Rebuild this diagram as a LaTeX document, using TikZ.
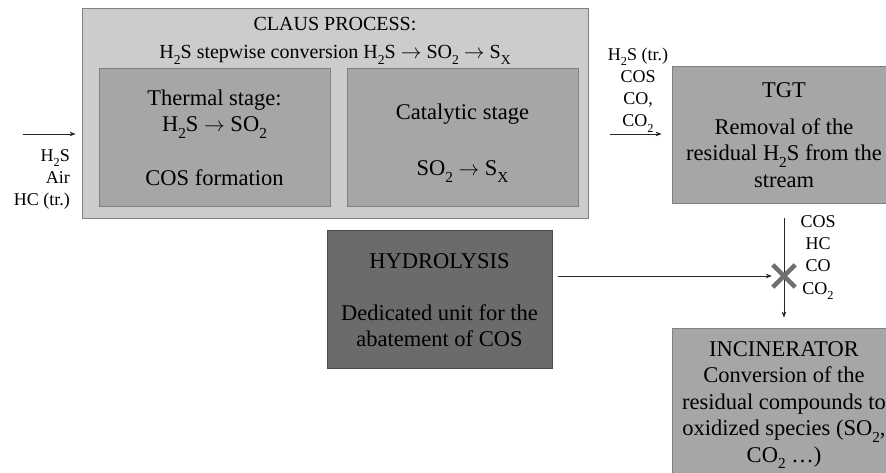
\documentclass[tikz,border=0pt]{standalone}
\usepackage{graphicx}
\usepackage{fontspec}
\setmainfont{Liberation Serif}
\usetikzlibrary{arrows.meta}
\newcommand{\sbs}[1]{\raisebox{-0.3em}{\scalebox{0.68}{#1}}}
\definecolor{outerfill}{HTML}{CCCCCC}
\definecolor{innerfill}{HTML}{A6A6A6}
\definecolor{hydfill}{HTML}{6B6B6B}
\definecolor{edgegray}{HTML}{808080}
\definecolor{crossgray}{HTML}{6E6E6E}
\tikzset{
  box/.style={draw=edgegray, line width=0.8pt, inner sep=0pt},
  boxtext/.style={inner sep=0pt, align=center, font=\fontsize{22.5}{26.8}\selectfont},
  lab/.style={inner sep=0pt, align=center, font=\fontsize{18}{22.3}\selectfont},
  flow/.style={draw=black!85, line width=0.7pt, -{Stealth[length=6pt,width=4.5pt]}},
  crossline/.style={draw=crossgray, line width=4.5pt},
}
\begin{document}
\begin{tikzpicture}[x=1pt,y=-1pt]
\useasboundingbox (0,0) rectangle (886,472);
\clip (0,0) rectangle (886,472);
% Claus process
\node[box, fill=outerfill, minimum width=506pt, minimum height=210pt] (claus) at (335,113) {};
\node[boxtext, font=\fontsize{20}{28}\selectfont] (claustitle) at (335,40.4)
  {CLAUS PROCESS:\\H\sbs{2}S stepwise conversion H\sbs{2}S $\rightarrow$ SO\sbs{2} $\rightarrow$ S\sbs{X}};
\node[box, fill=innerfill, minimum width=231pt, minimum height=138pt] (thermal) at (214.5,137) {};
\node[boxtext] (thermaltxt) at (214.5,137.5)
  {Thermal stage:\\H\sbs{2}S $\rightarrow$ SO\sbs{2}\\[26.5pt]COS formation};
\node[box, fill=innerfill, minimum width=231pt, minimum height=138pt] (catalytic) at (462.5,137) {};
\node[boxtext] (catalytictxt) at (462.5,143)
  {Catalytic stage\\[30pt]SO\sbs{2} $\rightarrow$ S\sbs{X}};
% TGT
\node[box, fill=innerfill, minimum width=224pt, minimum height=137pt] (tgt) at (784,134.5) {};
\node[boxtext] (tgttxt) at (784,135)
  {TGT\\[10.2pt]Removal of the\\residual H\sbs{2}S from the\\stream};
% Hydrolysis
\node[box, draw=black!70, fill=hydfill, minimum width=225pt, minimum height=138pt] (hyd) at (439.5,299) {};
\node[boxtext] (hydtxt) at (439.5,300.2)
  {HYDROLYSIS\\[25.2pt]Dedicated unit for the\\abatement of COS};
% Incinerator
\node[box, fill=innerfill, minimum width=224pt, minimum height=180pt] (incin) at (784,418) {};
\node[boxtext, font=\fontsize{22.5}{26.5}\selectfont] (incintxt) at (784,405)
  {INCINERATOR\\Conversion of the\\residual compounds to\\oxidized species (SO\sbs{2},\\CO\sbs{2} \dots)};
% labels
\node[lab, align=right, anchor=east] (feedlab) at (70,179.5) {H\sbs{2}S\\Air\\HC (tr.)};
\node[lab] (outlab) at (638,90) {H\sbs{2}S (tr.)\\COS\\CO,\\CO\sbs{2}};
\node[lab] (mixlab) at (818,257.3) {COS\\HC\\CO\\CO\sbs{2}};
% connectors
\coordinate (feedin) at (23,134);
\draw[flow, shorten >=6pt] (feedin) -- (feedin -| claus.west);
\coordinate (outstart) at (610,134);
\draw[flow, shorten >=10pt] (outstart) -- (outstart -| tgt.west);
\node[minimum size=22pt, inner sep=0pt] (mix) at (784,276) {};
\draw[flow, shorten <=15pt, shorten >=10pt] (tgt.south) -- (incin.north);
\draw[flow, shorten <=6pt, shorten >=1pt] (hyd.east |- mix) -- (mix.west);
\draw[crossline] (mix.north west) -- (mix.south east) (mix.north east) -- (mix.south west);
\end{tikzpicture}
\end{document}
